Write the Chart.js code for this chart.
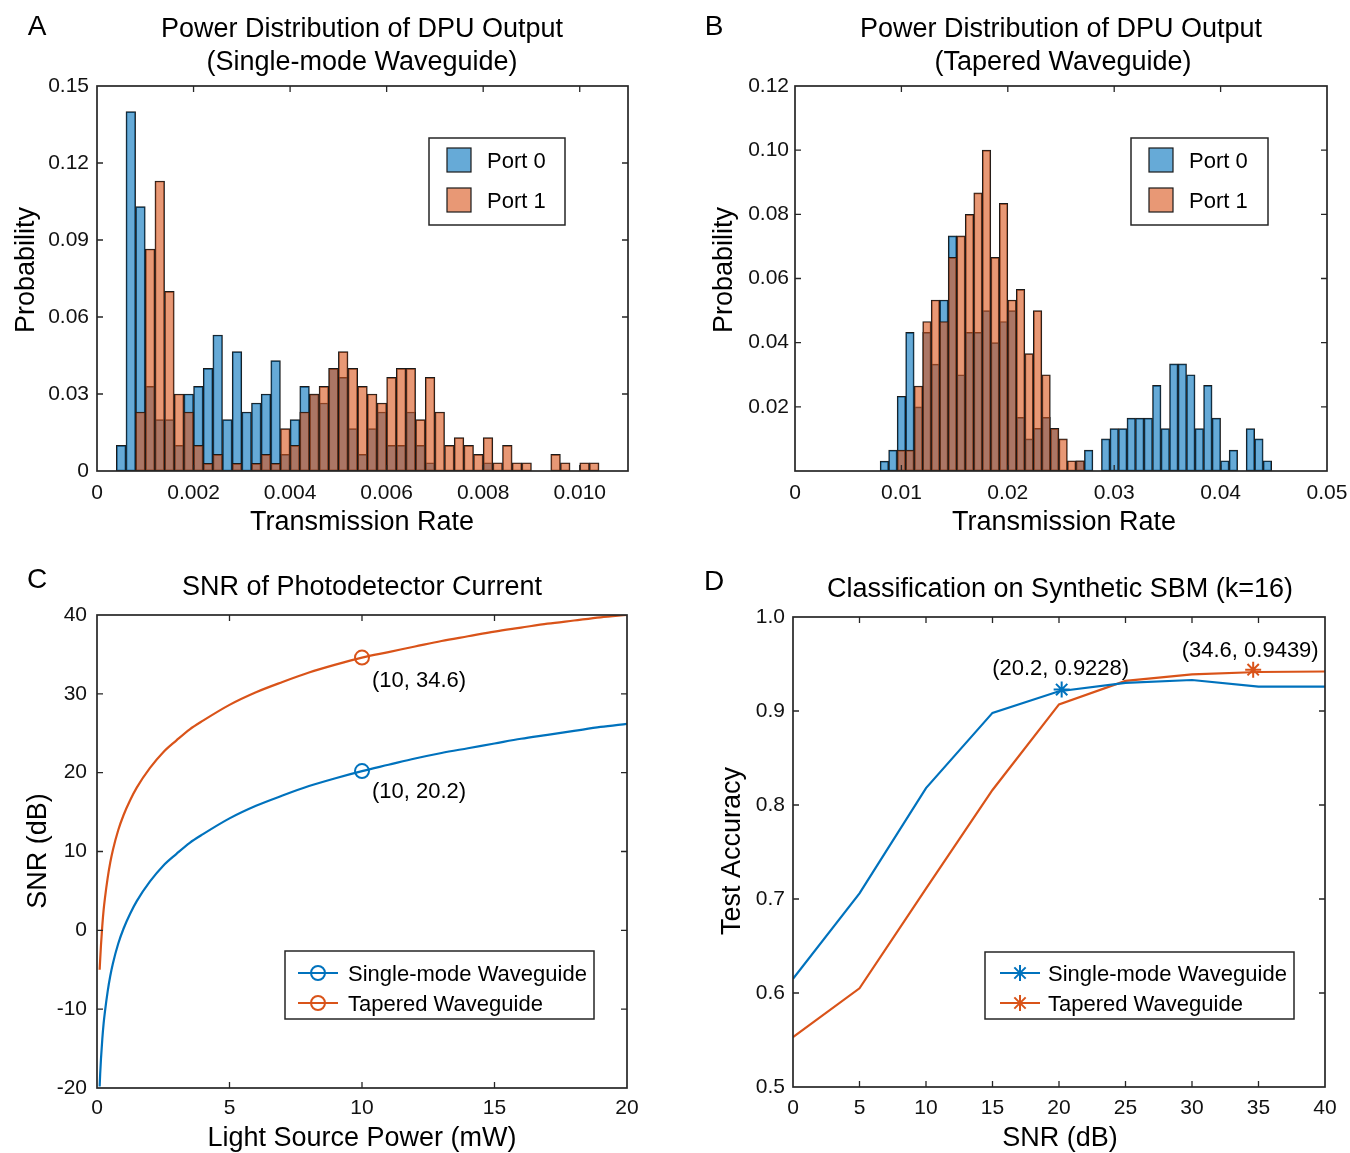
<!DOCTYPE html>
<html>
<head>
<meta charset="utf-8">
<script src="https://cdn.jsdelivr.net/npm/chart.js@4.4.1/dist/chart.umd.min.js"></script>
<style>
  body{margin:0;background:#fff;}
  #wrap{position:relative;width:1350px;height:1153px;}
  #wrap canvas{position:absolute;left:0;top:0;}
</style>
</head>
<body>
<div id="wrap">
  <canvas id="chartA" width="1350" height="1153"></canvas>
  <canvas id="chartB" width="1350" height="1153"></canvas>
  <canvas id="chartC" width="1350" height="1153"></canvas>
  <canvas id="chartD" width="1350" height="1153"></canvas>
</div>
<script>
/* ===============================
   DATA
================================ */

// A : histogram, single-mode waveguide (bin centres, width 0.0002)
const binsA = [
  0.0005,0.0007,0.0009,0.0011,0.0013,0.0015,0.0017,0.0019,0.0021,0.0023,
  0.0025,0.0027,0.0029,0.0031,0.0033,0.0035,0.0037,0.0039,0.0041,0.0043,
  0.0045,0.0047,0.0049,0.0051,0.0053,0.0055,0.0057,0.0059,0.0061,0.0063,
  0.0065,0.0067,0.0069,0.0071,0.0073,0.0075,0.0077,0.0079,0.0081,0.0083,
  0.0085,0.0087,0.0089,0.0091,0.0093,0.0095,0.0097,0.0099,0.0101,0.0103
];
const port0A = [
  0.010,0.140,0.103,0.033,0.020,0.020,0.010,0.030,0.033,0.040,
  0.053,0.020,0.0465,0.023,0.0265,0.030,0.043,0.0065,0.020,0.033,
  0.030,0.0265,0.040,0.0365,0.0165,0.0065,0.0165,0.023,0.010,0.010,
  0.023,0.010,0.0032,0,0,0,0,0,0.0032,0,
  0,0,0,0,0,0,0,0,0,0
];
const port1A = [
  0,0,0.023,0.0865,0.113,0.070,0.030,0.023,0.010,0.003,
  0.0065,0,0.003,0,0.003,0.0065,0.003,0.0165,0.010,0.023,
  0.030,0.033,0.040,0.0465,0.040,0.033,0.030,0.0265,0.0365,0.040,
  0.040,0.020,0.0365,0.023,0.010,0.013,0.010,0.0065,0.013,0.0032,
  0.010,0.0032,0.0032,0,0,0.0065,0.0032,0,0.0032,0.0032
];
const xTicksA = [0,0.002,0.004,0.006,0.008,0.010];
const xLabelsA = ["0","0.002","0.004","0.006","0.008","0.010"];
const yTicksA = [0,0.03,0.06,0.09,0.12,0.15];
const yLabelsA = ["0","0.03","0.06","0.09","0.12","0.15"];

// B : histogram, tapered waveguide (bin centres, width 0.0008)
const binsB = [
  0.0084,0.0092,0.0100,0.0108,0.0116,0.0124,0.0132,0.0140,0.0148,0.0156,
  0.0164,0.0172,0.0180,0.0188,0.0196,0.0204,0.0212,0.0220,0.0228,0.0236,
  0.0244,0.0252,0.0260,0.0268,0.0276,0.0284,0.0292,0.0300,0.0308,0.0316,
  0.0324,0.0332,0.0340,0.0348,0.0356,0.0364,0.0372,0.0380,0.0388,0.0396,
  0.0404,0.0412,0.0420,0.0428,0.0436,0.0444
];
const port0B = [
  0.0031,0.0065,0.0233,0.0432,0.020,0.0432,0.0333,0.0533,0.0733,0.030,
  0.0432,0.0432,0.050,0.040,0.0466,0.050,0.0167,0.010,0.0133,0.0167,
  0.0133,0,0,0.0032,0.0065,0,0.010,0.0132,0.0132,0.0165,
  0.0165,0.0165,0.0267,0.0132,0.0334,0.0334,0.030,0.0132,0.0267,0.0165,
  0.0032,0.0065,0,0.0132,0.010,0.0032
];
const port1B = [
  0,0,0.0065,0.0065,0.0265,0.0466,0.0533,0.0466,0.0666,0.0733,
  0.080,0.0867,0.100,0.0666,0.0834,0.0533,0.0566,0.0366,0.050,0.030,
  0.0133,0.010,0.0032,0.0032,0,0,0,0,0,0,
  0,0,0,0,0,0,0,0,0,0,
  0,0,0,0,0,0
];
const xTicksB = [0,0.01,0.02,0.03,0.04,0.05];
const xLabelsB = ["0","0.01","0.02","0.03","0.04","0.05"];
const yTicksB = [0.02,0.04,0.06,0.08,0.10,0.12];
const yLabelsB = ["0.02","0.04","0.06","0.08","0.10","0.12"];

// C : SNR vs light source power
const powerC = [0.1,0.12,0.15,0.2,0.25,0.3,0.4,0.5,0.6,0.8,1,1.25,1.5,2,2.5,3,3.5,4,5,6,7,8,9,10,11,12,13,14,15,16,17,18,19,20];
const snrSingleC = [-19.8,-18.2,-16.3,-13.8,-11.8,-10.3,-7.8,-5.8,-4.2,-1.7,0.2,2.1,3.7,6.2,8.2,9.7,11.1,12.2,14.2,15.8,17.1,18.3,19.3,20.2,21.0,21.8,22.5,23.1,23.7,24.3,24.8,25.3,25.8,26.2];
const snrTaperC  = [-5.0,-3.7,-1.9,0.6,2.6,4.1,6.6,8.6,10.2,12.7,14.6,16.5,18.1,20.6,22.6,24.1,25.5,26.6,28.6,30.2,31.5,32.7,33.7,34.6,35.3,36.0,36.7,37.3,37.9,38.4,38.9,39.3,39.7,40.0];
const markC = {x:10, single:20.2, taper:34.6};
const xTicksC = [0,5,10,15,20];
const xLabelsC = ["0","5","10","15","20"];
const yTicksC = [-20,-10,0,10,20,30,40];
const yLabelsC = ["-20","-10","0","10","20","30","40"];

// D : test accuracy vs SNR
const snrD = [0,5,10,15,20,25,30,35,40];
const accSingleD = [0.615,0.706,0.818,0.898,0.921,0.930,0.933,0.926,0.926];
const accTaperD  = [0.553,0.605,0.711,0.816,0.907,0.932,0.939,0.9415,0.942];
const markSingleD = {x:20.2, y:0.9228};
const markTaperD = {x:34.6, y:0.9439};
const xTicksD = [0,5,10,15,20,25,30,35,40];
const xLabelsD = ["0","5","10","15","20","25","30","35","40"];
const yTicksD = [0.5,0.6,0.7,0.8,0.9,1.0];
const yLabelsD = ["0.5","0.6","0.7","0.8","0.9","1.0"];

/* ===============================
   STYLE
================================ */
const FONT = '"Liberation Sans", Arial, Helvetica, sans-serif';
const INK = "#262626";
const BLUE = "#0072BD";
const ORANGE = "#D95319";
const BLUE_FACE = "rgba(0,114,189,0.6)";
const ORANGE_FACE = "rgba(217,83,25,0.6)";
const PAGE_W = 1350, PAGE_H = 1153;
const YW = 70, XH = 50, TICK = 6;

// page layout of every panel
const panels = {
  chartA: {
    area:{l:97,t:86,r:628,b:471},
    texts:[
      {t:"A",x:37,y:27,s:28},
      {t:"Power Distribution of DPU Output",x:362,y:30,s:27},
      {t:"(Single-mode Waveguide)",x:362,y:63,s:27},
      {t:"Transmission Rate",x:362,y:523,s:27},
      {t:"Probability",x:27,y:270,s:27,rot:true}
    ],
    legend:{kind:"patch",box:[429,138,565,225],rows:[160,200],sx:447,tx:487}
  },
  chartB: {
    area:{l:795,t:86,r:1327,b:471},
    texts:[
      {t:"B",x:714,y:27,s:28},
      {t:"Power Distribution of DPU Output",x:1061,y:30,s:27},
      {t:"(Tapered Waveguide)",x:1063,y:63,s:27},
      {t:"Transmission Rate",x:1064,y:523,s:27},
      {t:"Probability",x:725,y:270,s:27,rot:true}
    ],
    legend:{kind:"patch",box:[1131,138,1268,225],rows:[160,200],sx:1149,tx:1189}
  },
  chartC: {
    area:{l:97,t:615,r:627,b:1088},
    texts:[
      {t:"C",x:37,y:580,s:28},
      {t:"SNR of Photodetector Current",x:362,y:588,s:27},
      {t:"Light Source Power (mW)",x:362,y:1139,s:27},
      {t:"SNR (dB)",x:39,y:851,s:27,rot:true}
    ],
    notes:[
      {x:markC.x,y:markC.taper,dx:10,dy:23,align:"left"},
      {x:markC.x,y:markC.single,dx:10,dy:21,align:"left"}
    ],
    legend:{kind:"circle",box:[285,951,594,1019],rows:[973,1003],sx:298,tx:348}
  },
  chartD: {
    area:{l:793,t:617,r:1325,b:1087},
    texts:[
      {t:"D",x:714,y:582,s:28},
      {t:"Classification on Synthetic SBM (k=16)",x:1060,y:590,s:27},
      {t:"SNR (dB)",x:1060,y:1139,s:27},
      {t:"Test Accuracy",x:733,y:851,s:27,rot:true}
    ],
    notes:[
      {x:markSingleD.x,y:markSingleD.y,dx:-1,dy:-21,align:"center"},
      {x:markTaperD.x,y:markTaperD.y,dx:-3,dy:-19,align:"center"}
    ],
    legend:{kind:"star",box:[985,952,1294,1019],rows:[973,1003],sx:1000,tx:1048}
  }
};

/* ===============================
   MATLAB-LOOK PLUGIN
================================ */
function drawMarker(ctx, kind, x, y, color){
  ctx.strokeStyle = color;
  ctx.lineWidth = 2;
  ctx.beginPath();
  if(kind === "circle"){
    ctx.arc(x, y, 7, 0, Math.PI*2);
  }else{
    for(let k=0;k<4;k++){
      const a = k*Math.PI/4;
      ctx.moveTo(x - 8*Math.cos(a), y - 8*Math.sin(a));
      ctx.lineTo(x + 8*Math.cos(a), y + 8*Math.sin(a));
    }
  }
  ctx.stroke();
}

const figurePlugin = {
  id:"figure",
  afterDatasetsDraw(chart){
    const {ctx, chartArea:a, scales:{x, y}} = chart;
    ctx.save();
    ctx.strokeStyle = INK;
    ctx.lineWidth = 1.3;
    ctx.beginPath();
    x.ticks.forEach(t=>{
      const p = x.getPixelForValue(t.value);
      if(p < a.left+2 || p > a.right-2) return;
      ctx.moveTo(p, a.bottom); ctx.lineTo(p, a.bottom-TICK);
      ctx.moveTo(p, a.top); ctx.lineTo(p, a.top+TICK);
    });
    y.ticks.forEach(t=>{
      const p = y.getPixelForValue(t.value);
      if(p < a.top+2 || p > a.bottom-2) return;
      ctx.moveTo(a.left, p); ctx.lineTo(a.left+TICK, p);
      ctx.moveTo(a.right, p); ctx.lineTo(a.right-TICK, p);
    });
    ctx.stroke();
    ctx.lineWidth = 1.7;
    ctx.strokeRect(a.left, a.top, a.right-a.left, a.bottom-a.top);
    ctx.restore();
  },
  afterDraw(chart){
    const cfg = panels[chart.canvas.id];
    const {ctx, scales:{x, y}} = chart;
    ctx.save();
    ctx.textBaseline = "middle";
    ctx.fillStyle = "#000";

    cfg.texts.forEach(t=>{
      ctx.font = `${t.s}px ${FONT}`;
      ctx.textAlign = "center";
      if(t.rot){
        ctx.save();
        ctx.translate(t.x, t.y);
        ctx.rotate(-Math.PI/2);
        ctx.fillText(t.t, 0, 0);
        ctx.restore();
      }else{
        ctx.fillText(t.t, t.x, t.y);
      }
    });

    (cfg.notes || []).forEach(n=>{
      ctx.font = `22px ${FONT}`;
      ctx.textAlign = n.align;
      ctx.fillText(`(${n.x}, ${n.y})`, x.getPixelForValue(n.x)+n.dx, y.getPixelForValue(n.y)+n.dy);
    });

    // legend
    const L = cfg.legend;
    const items = chart.data.datasets.filter(d=>!d.isMarker);
    ctx.fillStyle = "#fff";
    ctx.fillRect(L.box[0], L.box[1], L.box[2]-L.box[0], L.box[3]-L.box[1]);
    ctx.strokeStyle = INK;
    ctx.lineWidth = 1.5;
    ctx.strokeRect(L.box[0], L.box[1], L.box[2]-L.box[0], L.box[3]-L.box[1]);
    items.forEach((d,i)=>{
      const cy = L.rows[i];
      if(L.kind === "patch"){
        ctx.fillStyle = d.backgroundColor;
        ctx.fillRect(L.sx, cy-12, 24, 24);
        ctx.strokeStyle = "#1a1a1a";
        ctx.lineWidth = 1.2;
        ctx.strokeRect(L.sx, cy-12, 24, 24);
      }else{
        ctx.strokeStyle = d.borderColor;
        ctx.lineWidth = 2.2;
        ctx.beginPath();
        ctx.moveTo(L.sx, cy); ctx.lineTo(L.sx+40, cy);
        ctx.stroke();
        drawMarker(ctx, L.kind, L.sx+20, cy, d.borderColor);
      }
      ctx.fillStyle = "#000";
      ctx.font = `22px ${FONT}`;
      ctx.textAlign = "left";
      ctx.fillText(d.label, L.tx, cy+2);
    });
    ctx.restore();
  }
};

/* ===============================
   HELPERS
================================ */
function axis(min, max, ticks, labels, pad, isX){
  return {
    type:"linear", min:min, max:max, offset:false,
    grid:{display:false, drawTicks:false}, border:{display:false},
    afterBuildTicks: s => { s.ticks = ticks.map(v=>({value:v})); },
    afterFit: s => {
      if(isX){ s.height = XH; s.paddingLeft = 0; s.paddingRight = 0; }
      else{ s.width = YW; s.paddingTop = 0; s.paddingBottom = 0; }
    },
    ticks:{
      padding:pad, color:"#111", autoSkip:false, maxRotation:0,
      font:{family:FONT, size:21},
      callback:(v,i)=>labels[i]
    }
  };
}

function options(id, xAx, yAx){
  const a = panels[id].area;
  return {
    responsive:false, animation:false, events:[],
    layout:{padding:{left:a.l-YW, top:a.t, right:PAGE_W-a.r, bottom:PAGE_H-a.b-XH}},
    plugins:{legend:{display:false}, tooltip:{enabled:false}, title:{display:false}},
    scales:{x:xAx, y:yAx}
  };
}

const xy = (xs, ys) => xs.map((v,i)=>({x:v, y:ys[i]}));

function histSets(bins, p0, p1){
  const pts = arr => bins.map((b,i)=>({x:b, y:arr[i] || null}));
  const common = {borderColor:"#1a1a1a", borderWidth:1, borderSkipped:false,
                  grouped:false, barPercentage:1, categoryPercentage:1};
  return [
    Object.assign({label:"Port 0", data:pts(p0), backgroundColor:BLUE_FACE, order:2}, common),
    Object.assign({label:"Port 1", data:pts(p1), backgroundColor:ORANGE_FACE, order:1}, common)
  ];
}

function marker(pt, color, style, r){
  return {data:[pt], showLine:false, isMarker:true, pointStyle:style, pointRadius:r,
          pointBorderWidth:2, pointBorderColor:color, pointBackgroundColor:"rgba(0,0,0,0)",
          borderColor:color};
}

/* ===============================
   CHARTS
================================ */

// A
new Chart(document.getElementById("chartA"), {
  type:"bar",
  data:{datasets:histSets(binsA, port0A, port1A)},
  options:options("chartA",
    axis(0, 0.011, xTicksA, xLabelsA, 10, true),
    axis(0, 0.15, yTicksA, yLabelsA, 8, false)),
  plugins:[figurePlugin]
});

// B
new Chart(document.getElementById("chartB"), {
  type:"bar",
  data:{datasets:histSets(binsB, port0B, port1B)},
  options:options("chartB",
    axis(0, 0.05, xTicksB, xLabelsB, 10, true),
    axis(0, 0.12, yTicksB, yLabelsB, 6, false)),
  plugins:[figurePlugin]
});

// C
new Chart(document.getElementById("chartC"), {
  type:"line",
  data:{datasets:[
    {label:"Single-mode Waveguide", data:xy(powerC, snrSingleC), borderColor:BLUE, borderWidth:2.2, pointRadius:0, cubicInterpolationMode:"monotone"},
    {label:"Tapered Waveguide", data:xy(powerC, snrTaperC), borderColor:ORANGE, borderWidth:2.2, pointRadius:0, cubicInterpolationMode:"monotone"},
    marker({x:markC.x, y:markC.single}, BLUE, "circle", 7),
    marker({x:markC.x, y:markC.taper}, ORANGE, "circle", 7)
  ]},
  options:options("chartC",
    axis(0, 20, xTicksC, xLabelsC, 8, true),
    axis(-20, 40, yTicksC, yLabelsC, 10, false)),
  plugins:[figurePlugin]
});

// D
new Chart(document.getElementById("chartD"), {
  type:"line",
  data:{datasets:[
    {label:"Single-mode Waveguide", data:xy(snrD, accSingleD), borderColor:BLUE, borderWidth:2.2, pointRadius:0, tension:0},
    {label:"Tapered Waveguide", data:xy(snrD, accTaperD), borderColor:ORANGE, borderWidth:2.2, pointRadius:0, tension:0},
    marker(markSingleD, BLUE, "star", 8),
    marker(markTaperD, ORANGE, "star", 8)
  ]},
  options:options("chartD",
    axis(0, 40, xTicksD, xLabelsD, 9, true),
    axis(0.5, 1.0, yTicksD, yLabelsD, 8, false)),
  plugins:[figurePlugin]
});
</script>
</body>
</html>
